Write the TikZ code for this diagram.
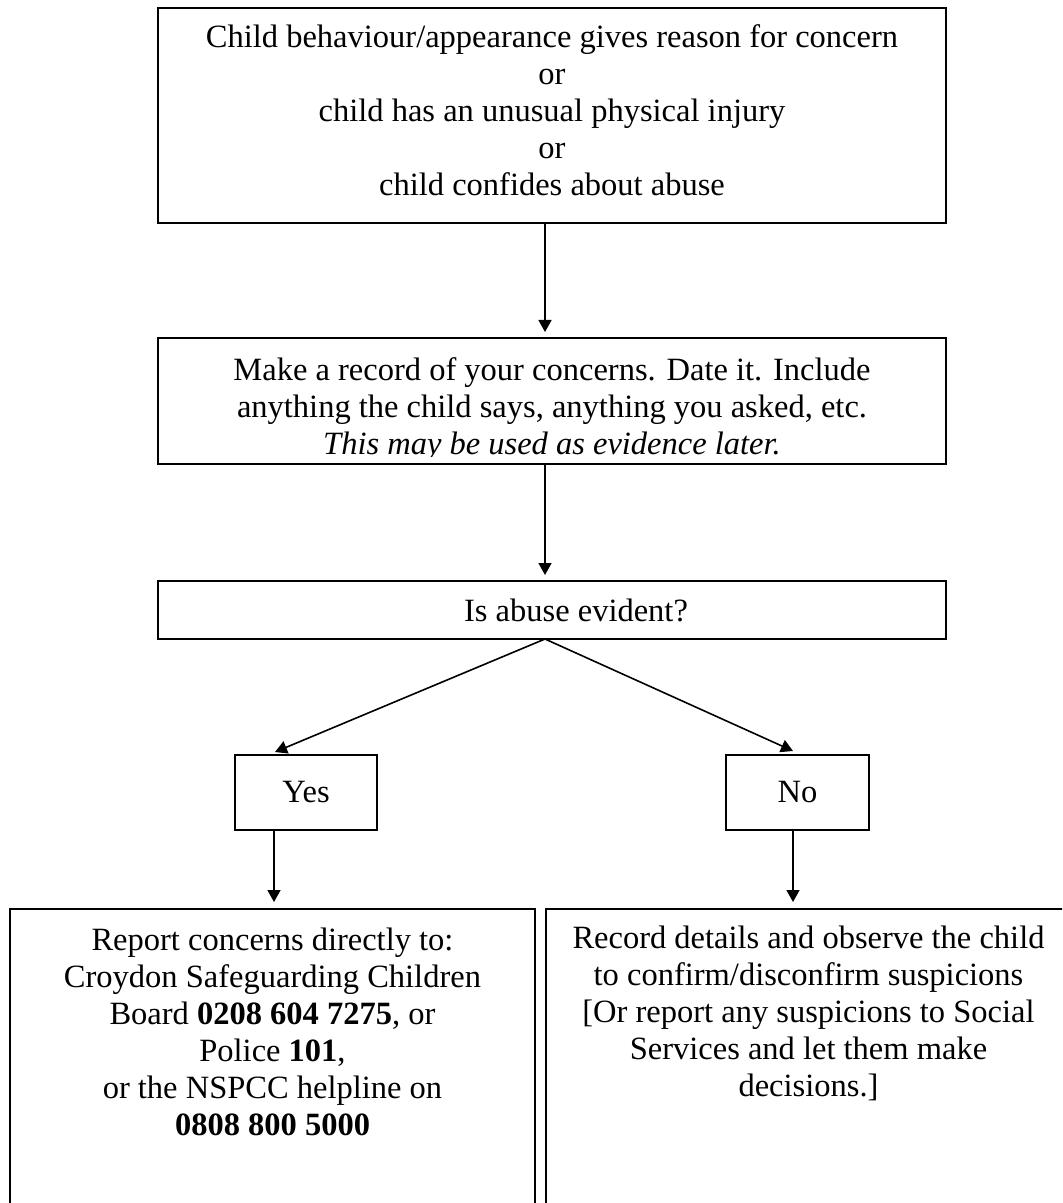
\documentclass[tikz,border=0pt]{standalone}
\usepackage{fontspec}
\setmainfont{Liberation Serif}
\usetikzlibrary{arrows.meta}
\begin{document}
\begin{tikzpicture}[x=0.5pt,y=-0.5pt,
  box/.style={draw, line width=1pt, rectangle, inner sep=0pt, outer sep=0pt,
    font=\fontsize{16.25pt}{18.5pt}\selectfont},
  txt/.style={anchor=base, inner sep=0pt, outer sep=0pt,
    font=\fontsize{16.25pt}{18.5pt}\selectfont},
  arr/.style={line width=0.8pt, -{Triangle[length=6pt,width=6.5pt]}}]
\clip (0,0) rectangle (1062,1203);
% boxes
\node[box, minimum width=394pt, minimum height=107.5pt] (b1) at (552,115.5) {};
\node[box, minimum width=394pt, minimum height=63pt] (b2) at (552,401) {};
\node[box, minimum width=394pt, minimum height=29pt] (b3) at (552,610) {};
\node[box, minimum width=71pt, minimum height=37.5pt] (yes) at (306,792.5) {Yes};
\node[box, minimum width=71.5pt, minimum height=37.5pt] (no) at (797.5,792.5) {No};
\node[box, minimum width=262.5pt, minimum height=175.5pt] (bl) at (272.5,1084.5) {};
\node[box, minimum width=262.5pt, minimum height=175.5pt] (br) at (808.5,1084.5) {};
% texts
\node[txt] (t1) at (552,48) {\parbox[t]{380pt}{\centering
  Child behaviour/appearance gives reason for concern\\
  or\\
  child has an unusual physical injury\\
  or\\
  child confides about abuse}};
\begin{scope}
\clip (160,340) rectangle (944,456);
\node[txt] (t2) at (552,380) {\parbox[t]{380pt}{\centering
  Make a record of your concerns. Date it. Include\\
  anything the child says, anything you asked, etc.\\
  \textit{This may be used as evidence later.}}};
\end{scope}
\node[txt] (t3) at (576,621) {Is abuse evident?};
\node[txt] (tl) at (272.5,950) {\parbox[t]{250pt}{\centering
  Report concerns directly to:\\
  Croydon Safeguarding Children\\
  Board \textbf{0208 604 7275}, or\\
  Police \textbf{101},\\
  or the NSPCC helpline on\\
  \textbf{0808 800 5000}}};
\node[txt] (tr) at (808.5,948) {\parbox[t]{250pt}{\centering
  Record details and observe the child\\
  to confirm/disconfirm suspicions\\
  {[}Or report any suspicions to Social\\
  Services and let them make\\
  decisions.{]}}};
% connectors
\draw[arr] ([xshift=-3.5pt]b1.south) -- ([xshift=-3.5pt,yshift=3pt]b2.north);
\draw[arr] ([xshift=-3.5pt]b2.south) -- ([xshift=-3.5pt,yshift=3pt]b3.north);
\draw[arr] ([xshift=-3.5pt]b3.south) -- ([xshift=-15.5pt,yshift=1.5pt]yes.north);
\draw[arr] ([xshift=-3.5pt]b3.south) -- ([xshift=-2.25pt,yshift=2pt]no.north);
\coordinate (ya) at ([xshift=-16pt]yes.south);
\coordinate (na) at ([xshift=-2.25pt]no.south);
\draw[arr] (ya) -- ([yshift=3.5pt]ya |- bl.north);
\draw[arr] (na) -- ([yshift=3.5pt]na |- br.north);
\end{tikzpicture}
\end{document}
